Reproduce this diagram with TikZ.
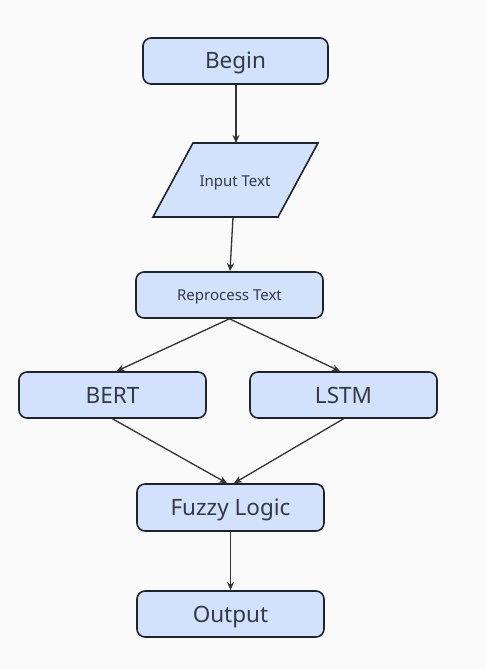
\documentclass[tikz,border=0pt]{standalone}
\usepackage{fontspec}
\setmainfont{Noto Sans}
\usetikzlibrary{arrows.meta}
\definecolor{bg}{HTML}{FAFAFA}
\definecolor{boxfill}{HTML}{D2E2FC}
\definecolor{boxline}{HTML}{1E232C}
\definecolor{txt}{HTML}{333945}
\definecolor{arr}{HTML}{333333}
\tikzset{
  box/.style={draw=boxline, fill=boxfill, line width=1.6pt, rounded corners=8pt,
    minimum width=187pt, minimum height=46pt, inner sep=0pt, text=txt,
    text height=16pt, text depth=0pt,
    font=\fontsize{22.5}{26}\selectfont},
  smallbox/.style={box, text height=10.7pt, font=\fontsize{15}{18}\selectfont},
  iobox/.style={draw=boxline, fill=boxfill, line width=1.6pt, line join=miter},
  smalltext/.style={inner sep=0pt, text=txt, text height=10.7pt, text depth=0pt,
    font=\fontsize{15}{18}\selectfont},
  conn/.style={draw=arr, line width=1.3pt, -{Stealth[length=8pt,width=7pt]}}
}
\begin{document}
\begin{tikzpicture}[x=1pt,y=-1pt]
\useasboundingbox[fill=bg] (0,0) rectangle (486,669);
\node[box, minimum width=185pt] (begin) at (235.5,61) {Begin};
% input parallelogram
\coordinate (ip1) at (193,143);
\coordinate (ip2) at (318,143);
\coordinate (ip3) at (278,217);
\coordinate (ip4) at (153,217);
\draw[iobox] (ip1) -- (ip2) -- (ip3) -- (ip4) -- cycle;
\node[smalltext] (input) at (235,181) {Input Text};
\coordinate (inTop) at (236,143);
\coordinate (inBot) at (233,217);
\node[smallbox] (rep) at (229.5,295) {Reprocess Text};
\node[box] (bert) at (112.5,395) {BERT};
\node[box] (lstm) at (343.5,395) {LSTM};
\node[box, minimum height=47pt] (fuzzy) at (230.5,507.5) {Fuzzy Logic};
\node[box] (out) at (230.5,614) {Output};
\draw[conn] (begin.south -| inTop) -- (inTop);
\draw[conn] (inBot) -- ([xshift=0.5pt]rep.north);
\draw[conn] (rep.south) -- ([xshift=4pt]bert.north);
\draw[conn] (rep.south) -- ([xshift=-3.5pt]lstm.north);
\draw[conn] (bert.south) -- ([xshift=-3.5pt]fuzzy.north);
\draw[conn] (lstm.south) -- ([xshift=3.5pt]fuzzy.north);
\draw[conn] (fuzzy.south) -- (out.north);
\end{tikzpicture}
\end{document}
